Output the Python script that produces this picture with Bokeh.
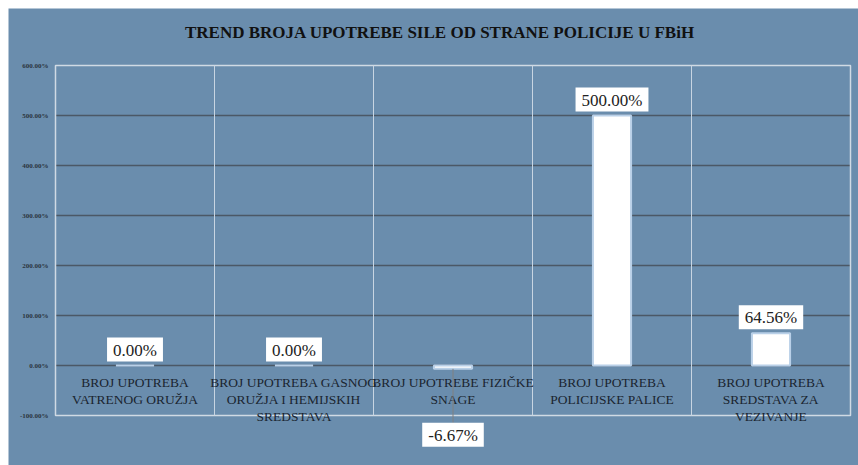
from bokeh.plotting import figure
from bokeh.models import Range1d, ColumnDataSource
from bokeh.core.properties import value
from bokeh.embed import file_html
from bokeh.resources import INLINE
import math

categories = ["BROJ UPOTREBA\nVATRENOG ORUŽJA",
              "BROJ UPOTREBA GASNOG\nORUŽJA I HEMIJSKIH\nSREDSTAVA",
              "BROJ UPOTREBE FIZIČKE\nSNAGE",
              "BROJ UPOTREBA\nPOLICIJSKE PALICE",
              "BROJ UPOTREBA\nSREDSTAVA ZA\nVEZIVANJE"]
values = [0.0, 0.0, -0.0667, 5.0, 0.6456]
value_labels = ["0.00%", "0.00%", "-6.67%", "500.00%", "64.56%"]
y_ticks = [-1, 0, 1, 2, 3, 4, 5, 6]
y_tick_labels = ["-100.00%", "0.00%", "100.00%", "200.00%", "300.00%", "400.00%", "500.00%", "600.00%"]
title_text = "TREND BROJA UPOTREBE SILE OD STRANE POLICIJE U FBiH"

BG = "#6a8dad"
SERIF = "Liberation Serif"
FRAME = "#d0dae4"

n = len(categories)
xs = [i + 0.5 for i in range(n)]
bounds = list(range(n + 1))

# scale: 50 px per 100 %, 159 px per category; the frame covers the whole figure
PX_Y = 50
PX_X = 159
y_start = y_ticks[0] - 50 / PX_Y
y_end = y_ticks[-1] + 57 / PX_Y
x_start = 0 - 47 / PX_X
x_end = n + 8 / PX_X

p = figure(width=850, height=457, output_backend="svg", toolbar_location=None,
           margin=(8, 0, 0, 8),
           x_range=Range1d(x_start, x_end), y_range=Range1d(y_start, y_end),
           min_border=0, background_fill_color=BG, border_fill_color=BG)

p.outline_line_color = None
p.xaxis.visible = False
p.yaxis.visible = False
p.xgrid.visible = False
p.ygrid.visible = False

# horizontal grid lines 0% .. 500%
inner = y_ticks[1:-1]
p.segment(x0=[bounds[0]] * len(inner), x1=[bounds[-1]] * len(inner), y0=inner, y1=inner,
          line_color="#4b5866", line_width=1.5)

# y tick labels
p.text(x=[bounds[0]] * len(y_ticks), y=y_ticks, text=y_tick_labels, text_align="right",
       text_baseline="middle", x_offset=-7, text_font=value(SERIF), text_font_size="7px",
       text_font_style="bold", text_color="#2a3440")

# title
p.text(x=[n / 2], y=[y_ticks[-1]], text=[title_text], text_align="center",
       text_baseline="middle", x_offset=-13, y_offset=-33, text_font=value(SERIF),
       text_font_size="17px", text_font_style="bold", text_color="#111111")

# plot-area box (600% .. -100%) and category separators
p.quad(left=[bounds[0]], right=[bounds[-1]], bottom=[y_ticks[0]], top=[y_ticks[-1]],
       fill_color=None, line_color=FRAME, line_width=1.5)
p.segment(x0=bounds[1:-1], x1=bounds[1:-1], y0=[y_ticks[0]] * (n - 1), y1=[y_ticks[-1]] * (n - 1),
          line_color="#c8d5e2", line_width=1)

src = ColumnDataSource(dict(x=xs, top=values, zero=[0] * n, lab=value_labels, cat=categories))

p.vbar(x="x", top="top", bottom=0, width=0.24, source=src,
       fill_color="white", line_color="#b9d0e8", line_width=2)

p.text(x="x", y="zero", text="cat", source=src, text_align="center", text_baseline="top",
       y_offset=9, text_font=value(SERIF), text_font_size="13.5px", text_color="#1a2530",
       text_line_height=1.15)

pos = [i for i, v in enumerate(values) if v >= 0]
neg = [i for i, v in enumerate(values) if v < 0]
src_pos = ColumnDataSource(dict(x=[xs[i] for i in pos], y=[values[i] for i in pos],
                                lab=[value_labels[i] for i in pos]))
src_neg = ColumnDataSource(dict(x=[xs[i] for i in neg], y=[values[i] for i in neg],
                                lab=[value_labels[i] for i in neg]))

p.ray(x="x", y="y", length=54, length_units="screen", angle=-math.pi / 2,
      source=src_neg, line_color="#808080", line_width=1)

common = dict(text="lab", text_align="center", text_font=value(SERIF),
              text_font_size="17px", text_color="#222222",
              background_fill_color="white", padding=(6, 6, 3, 2))
p.text(x="x", y="y", source=src_pos, text_baseline="bottom", y_offset=-4, **common)
p.text(x="x", y="y", source=src_neg, text_baseline="top", y_offset=54, **common)

open("out.html", "w").write(file_html(p, INLINE))
